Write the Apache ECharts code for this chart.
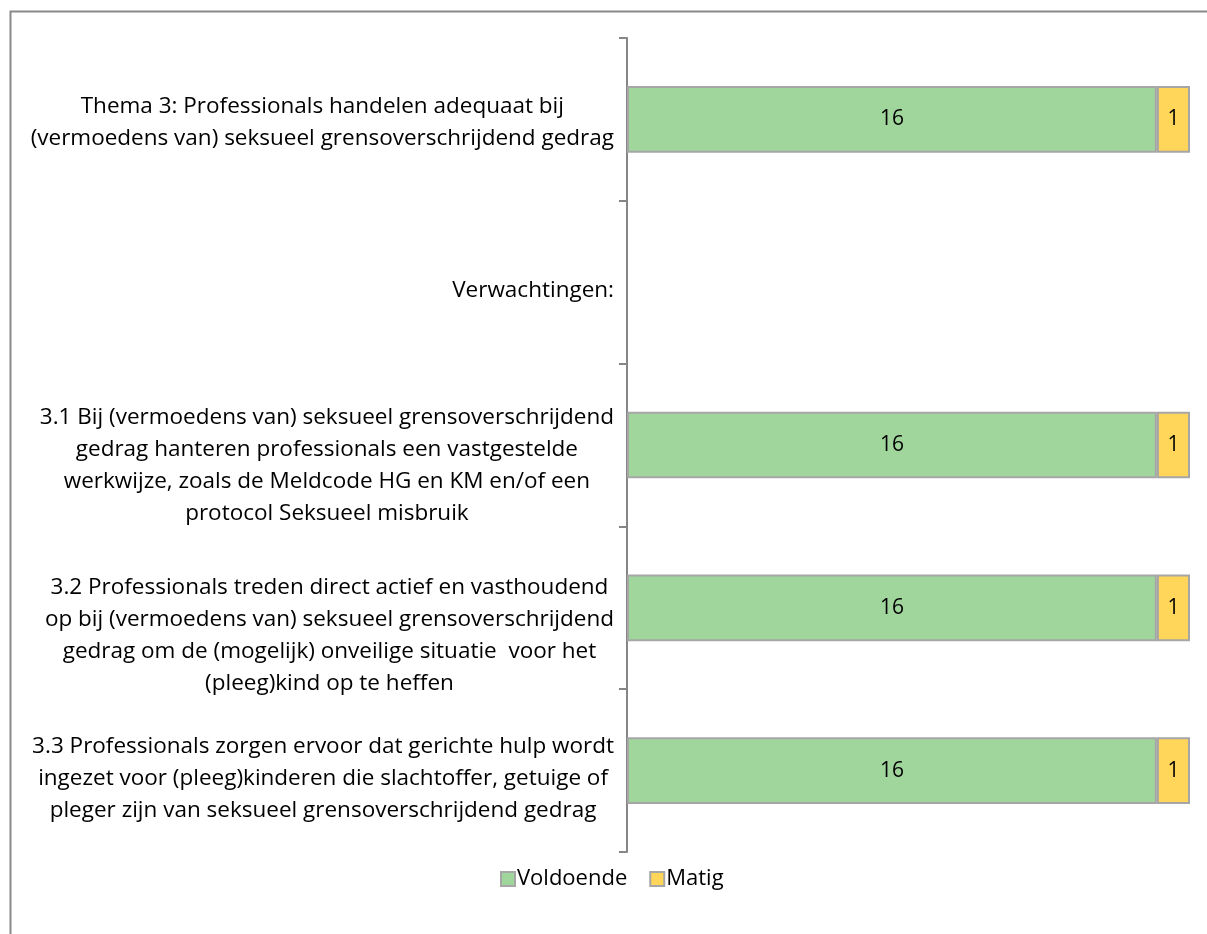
<!DOCTYPE html>
<html>
<head>
<meta charset="utf-8">
<script src="https://cdn.jsdelivr.net/npm/echarts@6/dist/echarts.min.js"></script>
<style>
html,body{margin:0;padding:0;background:#fff;}
#chart{width:1207px;height:934px;}
</style>
</head>
<body>
<div id="chart"></div>
<script>
const categories = [
  "Thema 3: Professionals handelen adequaat bij\n(vermoedens van) seksueel grensoverschrijdend gedrag",
  "Verwachtingen:",
  "3.1 Bij (vermoedens van) seksueel grensoverschrijdend\ngedrag hanteren professionals een vastgestelde\nwerkwijze, zoals de Meldcode HG en KM en/of een\nprotocol Seksueel misbruik",
  "3.2 Professionals treden direct actief en vasthoudend\nop bij (vermoedens van) seksueel grensoverschrijdend\ngedrag om de (mogelijk) onveilige situatie  voor het\n(pleeg)kind op te heffen",
  "3.3 Professionals zorgen ervoor dat gerichte hulp wordt\ningezet voor (pleeg)kinderen die slachtoffer, getuige of\npleger zijn van seksueel grensoverschrijdend gedrag"
];
const seriesNames = ["Voldoende", "Matig"];
const voldoende = [16, null, 16, 16, 16];
const matig = [1, null, 1, 1, 1];

// label vertical shift (style only)
const labelShift = [3, 8, 21, 28, 8];

const FONT = 'Open Sans';
const FS = 22.5;
const chart = echarts.init(document.getElementById('chart'));
chart.setOption({
  animation: false,
  backgroundColor: '#fff',
  textStyle: { fontFamily: FONT },
  graphic: [{
    type: 'rect', left: 8, top: 9, silent: true,
    shape: { width: 1400, height: 1200 },
    style: { fill: 'none', stroke: '#898989', lineWidth: 2 }
  }],
  grid: { left: 627, right: 17, top: 38, bottom: 82, containLabel: false },
  xAxis: {
    type: 'value', min: 0, max: 17, show: false,
    splitLine: { show: false }
  },
  yAxis: {
    type: 'category', inverse: true, data: categories,
    axisLine: { show: true, lineStyle: { color: '#868686', width: 2 } },
    axisTick: { show: true, length: 8, lineStyle: { color: '#868686', width: 2 } },
    axisLabel: {
      margin: 13,
      align: 'right',
      color: '#000',
      fontFamily: FONT,
      fontSize: FS,
      lineHeight: 32,
      formatter: function (value, idx) {
        const lines = value.split('\n').map(l => '{c|' + l + '}');
        const sp = '{sp' + idx + '| }';
        return sp + '\n' + lines.join('\n');
      },
      rich: (function () {
        const r = { c: { align: 'center', fontSize: FS, lineHeight: 32, color: '#000', fontFamily: FONT } };
        labelShift.forEach((s, i) => {
          r['sp' + i] = { fontSize: 1, lineHeight: Math.max(1, 2 * s), height: Math.max(1, 2 * s) };
        });
        return r;
      })()
    }
  },
  legend: {
    data: seriesNames,
    left: 495, top: 863,
    icon: 'rect', itemWidth: 14, itemHeight: 14, itemGap: 22,
    textStyle: { color: '#000', fontSize: 22, fontFamily: FONT, padding: [0, 0, 0, -3] }
  },
  series: [
    {
      name: seriesNames[0], type: 'bar', stack: 'total', data: voldoende,
      barCategoryGap: '59%',
      itemStyle: { color: '#A0D59C', borderColor: '#A6A6A6', borderWidth: 2 },
      label: { show: true, position: 'inside', color: '#000', fontSize: 21, fontFamily: FONT }
    },
    {
      name: seriesNames[1], type: 'bar', stack: 'total', data: matig,
      barCategoryGap: '59%',
      itemStyle: { color: '#FFD55A', borderColor: '#A6A6A6', borderWidth: 2 },
      label: { show: true, position: 'inside', color: '#000', fontSize: 21, fontFamily: FONT }
    }
  ]
});
</script>
</body>
</html>
